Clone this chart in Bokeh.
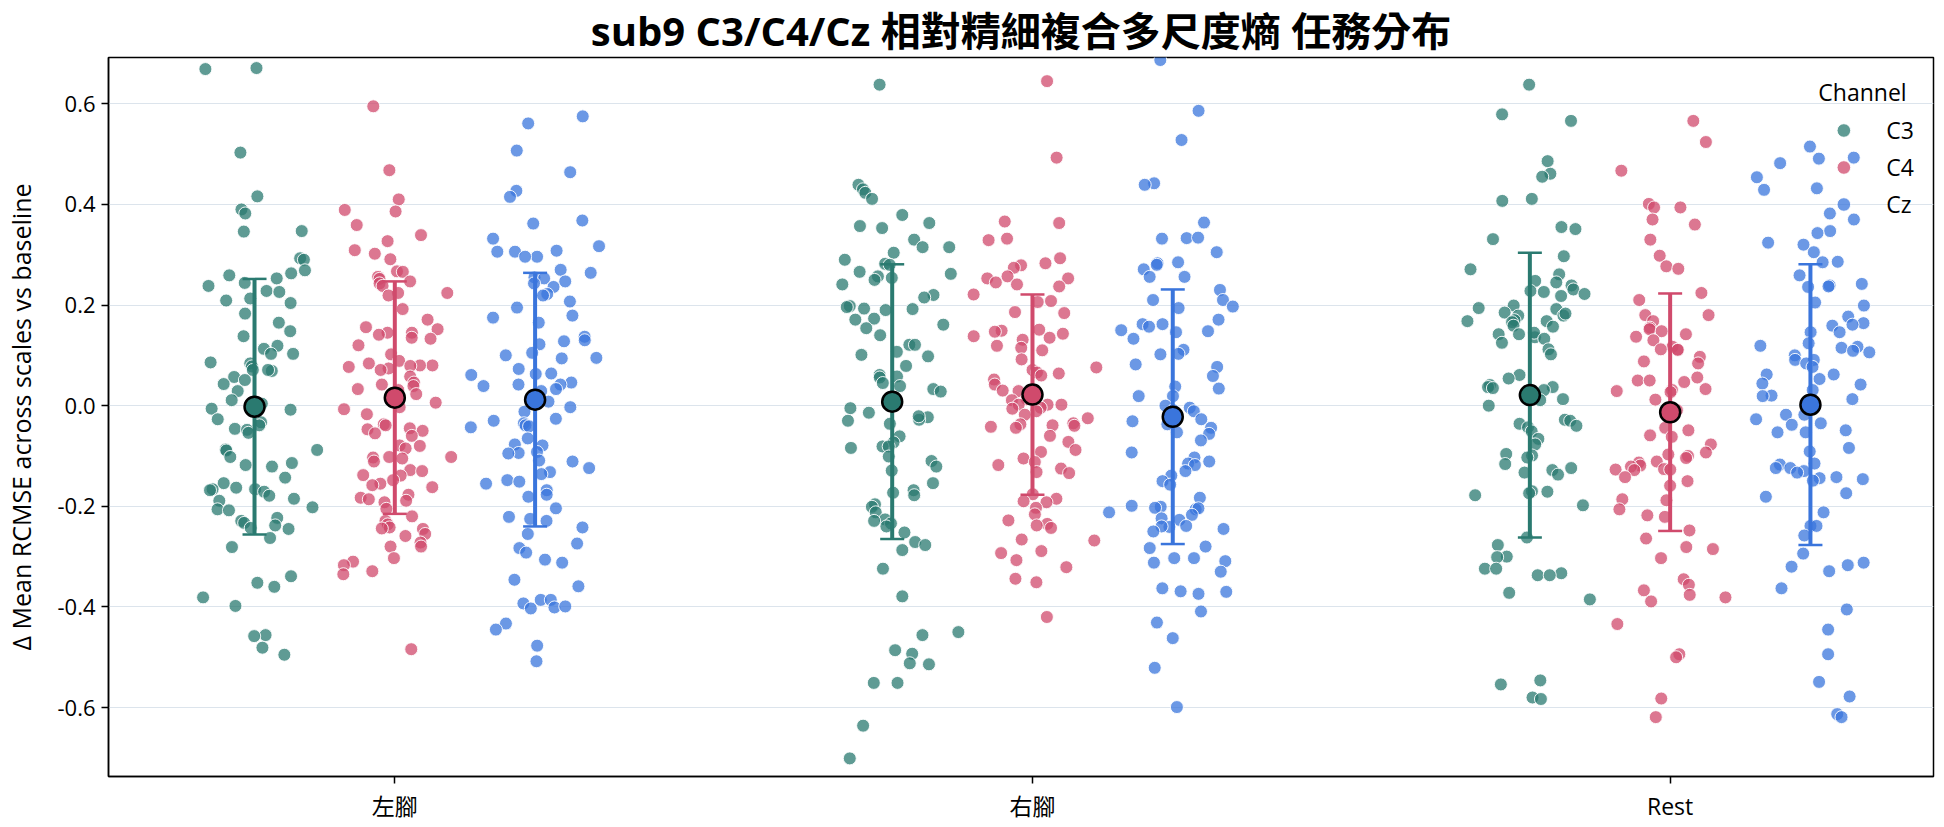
import math

from bokeh.embed import file_html
from bokeh.models import (ColumnDataSource, FixedTicker, Legend, LegendItem,
                          PrintfTickFormatter, Range1d)
from bokeh.plotting import figure
from bokeh.resources import INLINE

# ---- data ---------------------------------------------------------------
tasks = ["左腳", "右腳", "Rest"]
channels = ["C3", "C4", "Cz"]

left_C3 = [0.671, 0.669, 0.503, 0.416, 0.390, 0.382, 0.346, 0.347, 0.293, 0.290, 0.269, 0.263,
           0.259, 0.253, 0.244, 0.238, 0.228, 0.226, 0.213, 0.209, 0.204, 0.183, 0.165, 0.148,
           0.138, 0.119, 0.113, 0.103, 0.103, 0.084, 0.086, 0.078, 0.071, 0.069, 0.071, 0.057,
           0.051, 0.043, 0.029, 0.011, 0.004, -0.008, -0.006, -0.027, -0.033, -0.039, -0.046,
           -0.048, -0.054, -0.087, -0.088, -0.089, -0.102, -0.114, -0.118, -0.121, -0.143,
           -0.154, -0.163, -0.166, -0.166, -0.171, -0.168, -0.179, -0.185, -0.189, -0.202,
           -0.206, -0.208, -0.223, -0.229, -0.233, -0.238, -0.243, -0.245, -0.263, -0.281,
           -0.339, -0.352, -0.360, -0.381, -0.398, -0.456, -0.458, -0.481, -0.495]
left_C4 = [0.595, 0.468, 0.410, 0.389, 0.386, 0.359, 0.339, 0.327, 0.309, 0.302, 0.291, 0.267,
           0.266, 0.256, 0.252, 0.247, 0.243, 0.238, 0.224, 0.224, 0.219, 0.192, 0.171, 0.156,
           0.152, 0.145, 0.145, 0.141, 0.135, 0.133, 0.120, 0.102, 0.089, 0.084, 0.080, 0.080,
           0.079, 0.077, 0.074, 0.071, 0.058, 0.046, 0.042, 0.039, 0.033, 0.031, 0.023, 0.006,
           -0.003, -0.007, -0.017, -0.037, -0.039, -0.045, -0.047, -0.050, -0.055, -0.060,
           -0.079, -0.080, -0.085, -0.102, -0.102, -0.103, -0.105, -0.111, -0.128, -0.130,
           -0.138, -0.139, -0.148, -0.155, -0.158, -0.162, -0.177, -0.183, -0.186, -0.189,
           -0.192, -0.205, -0.220, -0.229, -0.236, -0.242, -0.244, -0.245, -0.255, -0.259,
           -0.272, -0.280, -0.280, -0.303, -0.310, -0.317, -0.329, -0.335, -0.484]
left_Cz = [0.575, 0.561, 0.507, 0.464, 0.427, 0.415, 0.368, 0.362, 0.332, 0.317, 0.308, 0.306,
           0.306, 0.296, 0.296, 0.270, 0.264, 0.255, 0.253, 0.247, 0.243, 0.236, 0.222, 0.219,
           0.207, 0.195, 0.179, 0.175, 0.165, 0.137, 0.130, 0.128, 0.122, 0.105, 0.100, 0.095,
           0.094, 0.073, 0.064, 0.063, 0.061, 0.046, 0.042, 0.042, 0.039, 0.033, 0.029, 0.008,
           -0.003, -0.012, -0.026, -0.030, -0.035, -0.039, -0.041, -0.043, -0.065, -0.077,
           -0.079, -0.092, -0.094, -0.095, -0.109, -0.111, -0.124, -0.132, -0.136, -0.148,
           -0.151, -0.155, -0.168, -0.177, -0.181, -0.204, -0.221, -0.225, -0.229, -0.242,
           -0.255, -0.274, -0.283, -0.292, -0.306, -0.312, -0.346, -0.359, -0.386, -0.386,
           -0.393, -0.401, -0.403, -0.399, -0.433, -0.445, -0.477, -0.508]

right_C3 = [0.638, 0.439, 0.430, 0.423, 0.411, 0.379, 0.363, 0.357, 0.353, 0.330, 0.315, 0.315,
            0.304, 0.290, 0.282, 0.280, 0.266, 0.262, 0.257, 0.254, 0.250, 0.241, 0.220, 0.215,
            0.198, 0.196, 0.192, 0.190, 0.193, 0.173, 0.171, 0.161, 0.154, 0.140, 0.121, 0.121,
            0.107, 0.101, 0.098, 0.079, 0.061, 0.058, 0.056, 0.045, 0.039, 0.033, 0.028, 0.017,
            -0.005, -0.014, -0.023, -0.028, -0.021, -0.030, -0.036, -0.061, -0.073, -0.081,
            -0.084, -0.081, -0.101, -0.110, -0.121, -0.129, -0.154, -0.168, -0.173, -0.178,
            -0.196, -0.201, -0.212, -0.226, -0.229, -0.234, -0.240, -0.252, -0.271, -0.277,
            -0.287, -0.324, -0.379, -0.450, -0.456, -0.486, -0.493, -0.514, -0.512, -0.551,
            -0.551, -0.636, -0.701]
right_C4 = [0.645, 0.493, 0.366, 0.363, 0.332, 0.329, 0.293, 0.283, 0.279, 0.274, 0.257, 0.253,
            0.253, 0.245, 0.241, 0.237, 0.221, 0.208, 0.206, 0.184, 0.186, 0.151, 0.149, 0.147,
            0.143, 0.138, 0.135, 0.131, 0.119, 0.115, 0.110, 0.092, 0.076, 0.071, 0.066, 0.064,
            0.060, 0.052, 0.042, 0.030, 0.029, 0.013, 0.011, 0.002, 0.002, 0.002, -0.004, -0.006,
            -0.011, -0.018, -0.025, -0.035, -0.037, -0.039, -0.040, -0.042, -0.044, -0.060,
            -0.072, -0.088, -0.092, -0.105, -0.112, -0.118, -0.125, -0.132, -0.134, -0.176,
            -0.185, -0.190, -0.192, -0.203, -0.216, -0.228, -0.235, -0.238, -0.243, -0.268,
            -0.266, -0.289, -0.293, -0.307, -0.321, -0.344, -0.351, -0.420]
right_Cz = [0.687, 0.586, 0.528, 0.442, 0.439, 0.364, 0.333, 0.334, 0.332, 0.305, 0.285, 0.283,
            0.280, 0.271, 0.256, 0.256, 0.230, 0.210, 0.210, 0.197, 0.194, 0.171, 0.162, 0.162,
            0.157, 0.150, 0.148, 0.146, 0.133, 0.111, 0.103, 0.102, 0.082, 0.077, 0.059, 0.038,
            0.034, 0.019, 0.019, 0.000, -0.004, -0.011, -0.009, -0.027, -0.031, -0.037, -0.044,
            -0.053, -0.056, -0.069, -0.093, -0.103, -0.111, -0.115, -0.118, -0.130, -0.139,
            -0.150, -0.157, -0.183, -0.199, -0.201, -0.203, -0.206, -0.204, -0.212, -0.217,
            -0.224, -0.227, -0.239, -0.241, -0.240, -0.245, -0.250, -0.283, -0.280, -0.303,
            -0.303, -0.309, -0.312, -0.330, -0.363, -0.370, -0.374, -0.369, -0.409, -0.431,
            -0.462, -0.521, -0.599]

rest_C3 = [0.638, 0.579, 0.566, 0.486, 0.461, 0.455, 0.411, 0.407, 0.355, 0.351, 0.331, 0.297,
           0.271, 0.261, 0.245, 0.248, 0.239, 0.231, 0.228, 0.222, 0.226, 0.218, 0.199, 0.194,
           0.192, 0.179, 0.183, 0.185, 0.179, 0.170, 0.168, 0.166, 0.168, 0.159, 0.157, 0.142,
           0.136, 0.145, 0.142, 0.133, 0.125, 0.112, 0.102, 0.061, 0.054, 0.041, 0.037, 0.035,
           0.037, 0.031, 0.023, 0.013, 0.011, 0.000, -0.028, -0.030, -0.036, -0.040, -0.043,
           -0.051, -0.066, -0.077, -0.096, -0.099, -0.103, -0.116, -0.124, -0.128, -0.133,
           -0.137, -0.170, -0.174, -0.171, -0.178, -0.198, -0.262, -0.277, -0.300, -0.301,
           -0.324, -0.337, -0.324, -0.333, -0.337, -0.372, -0.385, -0.546, -0.554, -0.580, -0.583]
rest_C4 = [0.566, 0.524, 0.467, 0.401, 0.394, 0.394, 0.370, 0.360, 0.330, 0.298, 0.277, 0.272,
           0.224, 0.210, 0.180, 0.180, 0.168, 0.155, 0.152, 0.148, 0.142, 0.137, 0.130, 0.117,
           0.112, 0.111, 0.111, 0.097, 0.088, 0.084, 0.056, 0.050, 0.050, 0.047, 0.033, 0.031,
           0.029, 0.027, 0.012, -0.003, -0.006, -0.009, -0.044, -0.049, -0.059, -0.062, -0.077,
           -0.093, -0.097, -0.100, -0.104, -0.111, -0.113, -0.119, -0.121, -0.126, -0.127,
           -0.127, -0.128, -0.142, -0.150, -0.159, -0.186, -0.188, -0.206, -0.218, -0.221,
           -0.248, -0.264, -0.281, -0.285, -0.303, -0.345, -0.356, -0.367, -0.376, -0.381,
           -0.389, -0.434, -0.494, -0.500, -0.582, -0.619]
rest_Cz = [0.515, 0.491, 0.493, 0.482, 0.454, 0.432, 0.429, 0.382, 0.370, 0.347, 0.343, 0.324,
           0.320, 0.305, 0.286, 0.285, 0.259, 0.239, 0.242, 0.237, 0.236, 0.205, 0.199, 0.177,
           0.164, 0.159, 0.161, 0.146, 0.146, 0.124, 0.119, 0.115, 0.117, 0.109, 0.106, 0.100,
           0.091, 0.091, 0.084, 0.077, 0.062, 0.062, 0.053, 0.044, 0.042, 0.031, 0.020, 0.019,
           0.013, -0.018, -0.018, -0.027, -0.035, -0.038, -0.049, -0.053, -0.053, -0.084,
           -0.091, -0.115, -0.117, -0.124, -0.124, -0.130, -0.133, -0.142, -0.144, -0.146,
           -0.149, -0.174, -0.181, -0.212, -0.239, -0.239, -0.258, -0.294, -0.312, -0.320,
           -0.329, -0.317, -0.363, -0.405, -0.445, -0.494, -0.549, -0.578, -0.613, -0.619]

# group means and standard deviations (per task: 左腳, 右腳, Rest)
mean_C3 = [-0.002, 0.008, 0.021]
mean_C4 = [0.016, 0.022, -0.013]
mean_Cz = [0.012, -0.022, 0.002]
sd_C3 = [0.254, 0.273, 0.283]
sd_C4 = [0.231, 0.199, 0.236]
sd_Cz = [0.252, 0.253, 0.279]

y_ticks = [-0.6, -0.4, -0.2, 0.0, 0.2, 0.4, 0.6]

# ---- styling ------------------------------------------------------------
colors = {"C3": "#2a7a70", "C4": "#d04a6c", "Cz": "#3a75dc"}
dodge = {"C3": -0.22, "C4": 0.0, "Cz": 0.22}
FONT = "'Open Sans', 'Noto Sans CJK TC', sans-serif"

values = {
    "C3": [left_C3, right_C3, rest_C3],
    "C4": [left_C4, right_C4, rest_C4],
    "Cz": [left_Cz, right_Cz, rest_Cz],
}
means = {"C3": mean_C3, "C4": mean_C4, "Cz": mean_Cz}
sds = {"C3": sd_C3, "C4": sd_C4, "Cz": sd_Cz}


def _hash01(i, s):
    h = math.sin(i * 12.9898 + s * 78.233) * 43758.5453
    return h - math.floor(h)


def strip_offsets(n, half_width, start):
    """Deterministic, centre-weighted horizontal spread for a strip of n points."""
    return [half_width * (_hash01(i, start) + _hash01(i, start + 0.5) - 1.0) for i in range(n)]


p = figure(
    width=1944, height=827,
    x_range=Range1d(-0.449, 2.413), y_range=Range1d(-0.737, 0.692),
    output_backend="svg", toolbar_location=None,
    min_border_left=108, min_border_right=11, min_border_top=54, min_border_bottom=51,
    background_fill_color="white", border_fill_color="white",
)

p.title.text = "sub9 C3/C4/Cz 相對精細複合多尺度熵 任務分布"
p.title.text_font = FONT
p.title.text_font_size = "40px"
p.title.text_font_style = "bold"
p.title.text_color = "black"
p.title.align = "center"
p.title.standoff = 0
p.title.offset = 0
p.title.text_line_height = 0.9

p.outline_line_color = "black"
p.outline_line_width = 1.5
p.outline_line_alpha = 1.0

p.xgrid.visible = False
p.ygrid.ticker = FixedTicker(ticks=y_ticks)
p.ygrid.grid_line_color = "#dce4ec"
p.ygrid.grid_line_width = 1.2

p.yaxis.ticker = FixedTicker(ticks=y_ticks)
p.yaxis.formatter = PrintfTickFormatter(format="%.1f")
p.yaxis.axis_label = "Δ Mean RCMSE across scales vs baseline"
p.yaxis.axis_label_text_font = FONT
p.yaxis.axis_label_text_font_size = "25px"
p.yaxis.axis_label_text_font_style = "normal"
p.yaxis.axis_label_text_color = "black"
p.yaxis.axis_label_standoff = 16

p.xaxis.ticker = FixedTicker(ticks=[0, 1, 2])
p.xaxis.major_label_overrides = {0: tasks[0], 1: tasks[1], 2: tasks[2]}

for ax in (p.xaxis, p.yaxis):
    ax.major_label_text_font = FONT
    ax.major_label_text_font_size = "22px"
    ax.major_label_text_color = "black"
    ax.axis_line_color = "black"
    ax.axis_line_width = 1.5
    ax.major_tick_line_color = "black"
    ax.major_tick_line_width = 1.5
    ax.major_tick_out = 7
    ax.major_tick_in = 0
    ax.minor_tick_line_color = None
    ax.major_label_standoff = 6
p.xaxis.major_label_text_font_size = "23px"

# individual subject points
point_renderers = {}
for ci, ch in enumerate(channels):
    xs, ys = [], []
    for ti, vals in enumerate(values[ch]):
        offs = strip_offsets(len(vals), 0.105, 3.1 + 1.7 * ti + 0.9 * ci)
        xs.extend(ti + dodge[ch] + o for o in offs)
        ys.extend(vals)
    src = ColumnDataSource(data=dict(x=xs, y=ys))
    point_renderers[ch] = p.scatter(
        x="x", y="y", source=src, size=13,
        fill_color=colors[ch], fill_alpha=0.75,
        line_color="white", line_width=1, line_alpha=0.9,
    )

# mean ± SD summaries
for ch in channels:
    cx = [ti + dodge[ch] for ti in range(len(tasks))]
    lo = [m - s for m, s in zip(means[ch], sds[ch])]
    hi = [m + s for m, s in zip(means[ch], sds[ch])]
    src = ColumnDataSource(data=dict(x=cx, m=means[ch], lo=lo, hi=hi))
    p.segment(x0="x", y0="lo", x1="x", y1="hi", source=src,
              line_color=colors[ch], line_width=4)
    p.scatter(x="x", y="hi", source=src, marker="dash", size=24,
              line_color=colors[ch], line_width=2.5)
    p.scatter(x="x", y="lo", source=src, marker="dash", size=24,
              line_color=colors[ch], line_width=2.5)
    p.scatter(x="x", y="m", source=src, size=20,
              fill_color=colors[ch], line_color="black", line_width=2.5)

legend = Legend(
    items=[LegendItem(label=ch, renderers=[point_renderers[ch]]) for ch in channels],
    title="Channel",
    location="top_right",
    background_fill_alpha=0.0,
    border_line_alpha=0.0,
    label_text_font=FONT,
    label_text_font_size="23px",
    label_text_color="black",
    title_text_font=FONT,
    title_text_font_size="23px",
    title_text_font_style="normal",
    title_text_color="black",
    glyph_width=50,
    glyph_height=34,
    label_height=34,
    label_standoff=18,
    spacing=3,
    padding=8,
    margin=11,
)
p.add_layout(legend)

open("out.html", "w").write(file_html(p, INLINE))
